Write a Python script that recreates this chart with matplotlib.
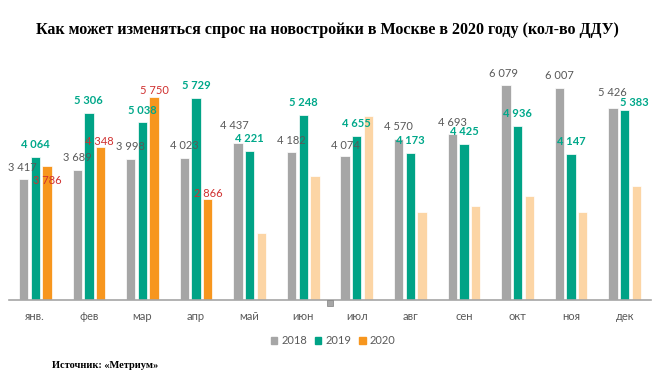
import matplotlib
matplotlib.use("Agg")
import matplotlib.pyplot as plt
from matplotlib.patches import Patch
import numpy as np

# ---- data ----
months = ["янв.", "фев", "мар", "апр", "май", "июн", "июл", "авг", "сен", "окт", "ноя", "дек"]
s2018 = [3417, 3689, 3998, 4023, 4437, 4182, 4074, 4570, 4693, 6079, 6007, 5426]
s2019 = [4064, 5306, 5038, 5729, 4221, 5248, 4655, 4173, 4425, 4936, 4147, 5383]
s2020_actual = [3786, 4348, 5750, 2866]
s2020_forecast = [1890, 3510, 5210, 2500, 2660, 2950, 2480, 3230]
years = ["2018", "2019", "2020"]

title = "Как может изменяться спрос на новостройки в Москве в 2020 году (кол-во ДДУ)"
source = "Источник: «Метриум»"

# ---- style ----
C_GRAY = "#A6A6A6"
C_GREEN = "#00A386"
C_ORANGE = "#F7961E"
C_PEACH = "#FCD5A5"
T_GRAY = "#595959"
T_GREEN = "#00A88A"
T_RED = "#D0302F"
LABEL_FONT = ["Lato", "DejaVu Sans"]
SERIF = ["Liberation Serif", "DejaVu Serif"]

# label offsets (pixels, image coords: +y is down)
off2018 = [(-1, -12), (0, -12), (0, -12.5), (0, -12), (-4, -17.5), (0, -12),
           (0, -11), (0, -12), (0, -12), (-2, -12), (0, -12), (-1, -16)]
off2019 = [(0, -12)] * 11 + [(9.5, -7.7)]
off2020 = [(0, 14), (-1, -5), (0, -6.5), (0.5, -5.5)]

W, H = 662, 377
fig = plt.figure(figsize=(W / 100, H / 100), dpi=100)
ax = fig.add_axes([8.5 / W, 77 / H, 643 / W, 247.1 / H])

x = np.arange(len(months))
step = 0.218
bw = 0.175
s2020 = s2020_actual + s2020_forecast
c2020 = [C_ORANGE] * len(s2020_actual) + [C_PEACH] * len(s2020_forecast)

ax.bar(x - step, s2018, bw, color=C_GRAY, edgecolor="white", linewidth=0.5, zorder=2)
ax.bar(x, s2019, bw, color=C_GREEN, edgecolor="white", linewidth=0.5, zorder=2)
ax.bar(x + step, s2020, bw, color=c2020, edgecolor="white", linewidth=0.5, zorder=2)

def fmt(v):
    return f"{v:,}".replace(",", " ")

for i, v in enumerate(s2018):
    dx, dy = off2018[i]
    ax.annotate(fmt(v), (x[i] - step, v), xytext=(dx, -dy), textcoords="offset pixels",
                ha="center", va="center", fontsize=8, color=T_GRAY, family=LABEL_FONT, zorder=3)
for i, v in enumerate(s2019):
    dx, dy = off2019[i]
    ax.annotate(fmt(v), (x[i], v), xytext=(dx, -dy), textcoords="offset pixels",
                ha="center", va="center", fontsize=8, color=T_GREEN, fontweight="bold",
                family=LABEL_FONT, zorder=3)
for i, v in enumerate(s2020_actual):
    dx, dy = off2020[i]
    ax.annotate(fmt(v), (x[i] + step, v), xytext=(dx, -dy), textcoords="offset pixels",
                ha="center", va="center", fontsize=8, color=T_RED, family=LABEL_FONT, zorder=3)

ax.set_xlim(-0.5, len(months) - 0.5)
ax.set_ylim(0, 7000)
for s in ["top", "left", "right"]:
    ax.spines[s].set_visible(False)
ax.spines["bottom"].set_color(C_GRAY)
ax.spines["bottom"].set_linewidth(1.2)
ax.set_yticks([])
ax.set_xticks(x)
ax.set_xticklabels(months, fontsize=8, color=T_GRAY, family=LABEL_FONT)
ax.tick_params(axis="x", length=0, pad=8)

# small marker on the axis between июн and июл
ax.plot(5.5, -95, marker="s", ms=4, color=C_GRAY, mec="#808080", mew=0.5, clip_on=False, zorder=4)

handles = [Patch(color=C_GRAY), Patch(color=C_GREEN), Patch(color=C_ORANGE)]
fig.legend(handles, years, loc="center", bbox_to_anchor=(333 / W, 1 - 340.5 / H), ncol=3,
           frameon=False, handlelength=0.6, handleheight=0.6, handletextpad=0.35,
           columnspacing=0.7, prop={"family": LABEL_FONT, "size": 8}, labelcolor=T_GRAY)

fig.text(327.5 / W, 1 - 30 / H, title, ha="center", va="center", fontsize=11.5,
         fontweight="bold", family=SERIF)
fig.text(51.7 / W, 1 - 365 / H, source, ha="left", va="center", fontsize=7.5,
         fontweight="bold", family=SERIF)

fig.savefig("out.png", dpi=100)
